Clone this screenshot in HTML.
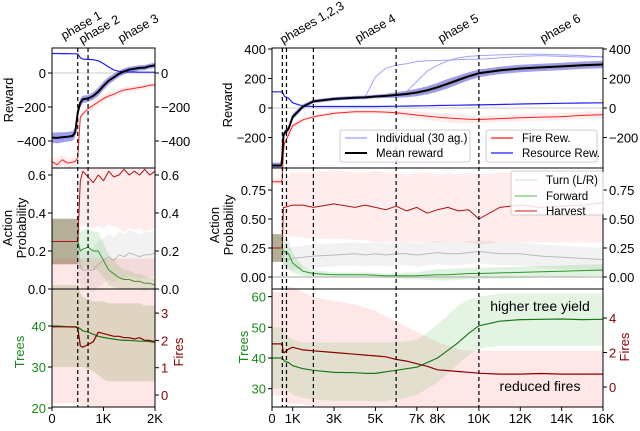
<!DOCTYPE html>
<html><head><meta charset="utf-8">
<style>
html,body{margin:0;padding:0;background:#fff;}
svg text{font-family:"Liberation Sans","DejaVu Sans",sans-serif;}
</style></head>
<body>
<svg id="chart" width="640" height="426" viewBox="0 0 640 426" xmlns="http://www.w3.org/2000/svg">
<defs>
<clipPath id="cL"><rect x="52" y="48" width="103" height="359"/></clipPath>
<clipPath id="cR"><rect x="272" y="48" width="331" height="359"/></clipPath>
</defs>
<g id="layer"></g>
</svg>
<script>
// ---------- data (x in thousands of episodes) ----------
const phaseLeftX = [0.5, 0.7];
const phaseRightX = [0.5, 0.7, 2, 6, 10];

// left panel (0-2K)
const lx = [0,0.1,0.2,0.3,0.4,0.45,0.5,0.55,0.6,0.7,0.8,0.9,1.0,1.1,1.2,1.3,1.4,1.5,1.6,1.7,1.8,1.9,2.0];
const lResource = [115,115,114,114,113,113,112,90,82,80,78,72,55,35,18,10,8,6,6,5,5,5,5];
const lMean = [-380,-382,-378,-375,-370,-350,-230,-175,-155,-150,-135,-110,-75,-45,-25,-5,10,20,25,30,32,40,45];
const lMeanSpread = [30,32,30,28,28,28,30,25,22,20,22,25,25,22,20,18,18,16,16,15,15,15,15];
const lFire = [-520,-540,-510,-530,-525,-520,-500,-260,-240,-210,-190,-170,-150,-135,-125,-110,-100,-95,-90,-85,-80,-72,-70];
const lHarvest = [0.25,0.25,0.25,0.25,0.25,0.25,0.25,0.57,0.62,0.59,0.56,0.6,0.57,0.62,0.59,0.6,0.63,0.6,0.62,0.6,0.63,0.6,0.62];
const lHarvestHi = [0.37,0.37,0.37,0.37,0.37,0.37,0.37,0.64,0.64,0.64,0.64,0.64,0.64,0.64,0.64,0.64,0.64,0.64,0.64,0.64,0.64,0.64,0.64];
const lHarvestLo = [0.13,0.13,0.13,0.13,0.13,0.13,0.13,0.33,0.33,0.34,0.32,0.33,0.32,0.34,0.33,0.32,0.3,0.32,0.31,0.32,0.3,0.31,0.32];
const lForward = [0.25,0.25,0.25,0.25,0.25,0.25,0.25,0.2,0.21,0.22,0.2,0.2,0.15,0.1,0.08,0.06,0.05,0.05,0.04,0.04,0.03,0.03,0.02];
const lForwardSpread = [0.12,0.12,0.12,0.12,0.12,0.12,0.12,0.1,0.1,0.1,0.1,0.1,0.09,0.08,0.07,0.06,0.05,0.05,0.04,0.04,0.04,0.03,0.03];
const lTurn = [0.25,0.25,0.25,0.25,0.25,0.25,0.25,0.12,0.1,0.1,0.1,0.13,0.15,0.17,0.15,0.18,0.17,0.19,0.18,0.17,0.18,0.18,0.19];
const lTurnSpread = [0.12,0.12,0.12,0.12,0.12,0.12,0.12,0.1,0.1,0.1,0.12,0.12,0.12,0.12,0.12,0.12,0.12,0.12,0.12,0.12,0.12,0.12,0.12];
const lTrees = [40,40,39.9,39.8,39.7,39.8,39.7,39.3,38.8,38.5,38,37.5,37.2,37,36.8,36.6,36.5,36.5,36.4,36.3,36.3,36.2,36.0];
const lTreesHi = [50,50,50,50,50,50,50,48,47,46.5,46,46,46,45.5,45.5,45.5,45.5,45.5,45.5,45.5,45,45,45];
const lTreesLo = [30,30,30,30,30,30,30,30,30,29.5,29,28,27,26.5,26.5,26.5,26.5,26.5,26.5,26.5,26.5,26.5,26.5];
const lFires = [2.5,2.5,2.5,2.5,2.5,2.5,2.45,1.8,1.75,1.85,1.95,2.3,2.25,2.2,2.15,2.15,2.1,2.1,2.05,2.1,2.0,2.0,1.95];
const lFiresHi = [5,5,5,5,5,5,5,5,5,5,5,5,5,5,5,5,5,5,5,5,5,5,5];
const lFiresLo = [-0.3,-0.3,-0.3,-0.3,-0.3,-0.3,-0.3,-0.4,-0.4,-0.4,-0.5,-0.5,-0.5,-0.5,-0.5,-0.5,-0.5,-0.5,-0.5,-0.5,-0.5,-0.5,-0.5];

// right panel (0-16K)
const rx = [0,0.45,0.5,0.55,0.6,0.8,1.0,1.5,2,3,4,4.5,5,5.5,6,6.5,7,7.5,8,8.5,9,9.5,10,11,12,13,14,15,16];
const rResource = [110,110,108,95,80,65,35,12,10,10,10,10,10,11,12,13,14,15,17,18,19,20,21,24,27,30,32,34,35];
const rMean = [-390,-390,-330,-190,-170,-140,-60,10,45,62,70,72,78,82,88,95,105,120,140,165,190,215,235,255,268,275,282,290,295];
const rMeanSpread = [20,20,20,20,20,20,20,15,12,12,12,12,12,14,18,22,25,28,30,32,30,28,26,25,25,25,25,25,25];
const rFire = [-500,-500,-480,-300,-240,-180,-120,-80,-60,-35,-25,-25,-25,-28,-32,-40,-48,-55,-62,-68,-72,-76,-78,-72,-66,-62,-58,-50,-45];
const rIndA = [-390,-390,-330,-190,-170,-140,-60,10,45,62,70,75,210,270,290,300,315,320,322,325,328,330,330,340,350,355,350,345,350];
const rIndB = [-390,-390,-330,-190,-170,-140,-60,10,45,62,70,72,78,82,88,110,180,250,290,320,340,350,355,360,365,365,360,355,345];
const rHarvest = [0.25,0.25,0.25,0.6,0.6,0.61,0.62,0.62,0.6,0.63,0.6,0.62,0.6,0.58,0.61,0.57,0.6,0.55,0.58,0.6,0.57,0.58,0.5,0.6,0.62,0.6,0.61,0.62,0.64];
const rHarvestHi = [0.37,0.37,0.37,0.85,0.85,0.87,0.9,0.9,0.9,0.92,0.9,0.9,0.92,0.9,0.9,0.88,0.9,0.9,0.88,0.9,0.88,0.9,0.88,0.9,0.9,0.9,0.9,0.9,0.9];
const rHarvestLo = [0.13,0.13,0.13,0.35,0.35,0.35,0.35,0.34,0.33,0.33,0.32,0.32,0.3,0.3,0.3,0.3,0.3,0.3,0.3,0.3,0.3,0.3,0.28,0.3,0.3,0.3,0.3,0.3,0.3];
const rForward = [0.25,0.25,0.25,0.22,0.22,0.2,0.12,0.05,0.03,0.02,0.02,0.02,0.015,0.01,0.01,0.01,0.01,0.015,0.02,0.02,0.025,0.03,0.03,0.035,0.04,0.045,0.05,0.055,0.06];
const rForwardSpread = [0.12,0.12,0.12,0.12,0.12,0.12,0.08,0.04,0.03,0.02,0.02,0.02,0.02,0.02,0.02,0.03,0.03,0.04,0.05,0.05,0.05,0.05,0.05,0.05,0.05,0.05,0.05,0.05,0.05];
const rTurn = [0.25,0.25,0.25,0.18,0.16,0.15,0.16,0.17,0.18,0.19,0.2,0.19,0.2,0.19,0.2,0.2,0.19,0.2,0.21,0.2,0.2,0.21,0.22,0.2,0.2,0.18,0.17,0.16,0.15];
const rTurnSpread = [0.12,0.12,0.12,0.1,0.1,0.1,0.1,0.1,0.1,0.1,0.1,0.1,0.1,0.1,0.1,0.1,0.1,0.1,0.1,0.1,0.1,0.1,0.1,0.1,0.1,0.1,0.1,0.1,0.1];
const rTrees = [40,40,39.8,39.5,39,38.5,37.5,36.5,36,35.3,35.2,35,35,35.5,36,36.5,37,38.5,40,42.5,45,48,50.5,52,52.5,52.6,52.7,52.5,52.6];
const rTreesHi = [50,50,50,49,48.5,47,46,45,45,45,45,45,45,45,45,45.5,46,48,51,54,57,59,60,61,61,61,61,61,61];
const rTreesLo = [30,30,30,30,29.5,29,28,27,26.5,26,26,26,26,26,26.5,27,28,30,32,35,38,41,43,44,44,44,44,44,44];
const rFires = [2.5,2.5,2.4,2.0,2.0,2.2,2.3,2.15,2.1,2.0,1.9,1.85,1.8,1.75,1.6,1.5,1.35,1.2,1.0,0.95,0.9,0.85,0.8,0.75,0.75,0.78,0.75,0.75,0.75];
const rFiresHi = [5.5,5.5,5.5,5.5,5.5,5.8,5.8,5.5,5.2,5.0,4.8,4.6,4.4,4.1,3.8,3.5,3.2,2.9,2.6,2.4,2.2,2.1,2.1,2.1,2.1,2.1,2.1,2.1,2.1];
const rFiresLo = [-0.5,-0.5,-0.6,-0.8,-0.9,-1.0,-1.0,-1.0,-1.1,-1.1,-1.1,-1.1,-1.2,-1.2,-1.2,-1.2,-1.2,-1.2,-1.3,-1.3,-1.3,-1.3,-1.3,-1.3,-1.3,-1.3,-1.3,-1.3,-1.3];

// tick labels
const lRewardTicks = [0,-200,-400];
const lActTicks = [0.6,0.4,0.2,0.0];
const lTreeTicks = [40,30,20];
const lFireTicks = [3,2,1,0];
const lXTicks = [0,1,2];
const lXTickLabels = ["0","1K","2K"];
const rRewardTicks = [400,200,0,-200];
const rActTicks = [0.75,0.5,0.25,0.0];
const rTreeTicks = [60,50,40,30];
const rFireTicks = [4,2,0];
const rXTicks = [0,1,3,5,7,8,10,12,14,16];
const rXTickLabels = ["0","1K","3K","5K","7K","8K","10K","12K","14K","16K"];

// ---------- scales ----------
const LX = v => 52 + v*51.5;
const RX = v => 272 + v*20.69;
const LYr = v => 73 - v*0.17;
const LYa = v => 289 - v*190;
const LYt = v => 326 - (v-40)*4.1;
const LYf = v => 395 - v*27.3;
const RYr = v => 108 - v*0.1475;
const RYa = v => 277 - v*116;
const RYt = v => 358 - (v-40)*3.07;
const RYf = v => 387 - v*17.25;

const NS = "http://www.w3.org/2000/svg";
const layer = document.getElementById('layer');
function mk(tag, attrs, parent){const e=document.createElementNS(NS,tag);for(const k in attrs)e.setAttribute(k,attrs[k]);(parent||layer).appendChild(e);return e;}
function pts(xs, ys, X, Y){return xs.map((x,i)=>X(x).toFixed(1)+','+Y(ys[i]).toFixed(1)).join(' ');}
function line(g, xs, ys, X, Y, color, w, name, op){
  const e=mk('polyline',{points:pts(xs,ys,X,Y),fill:'none',stroke:color,'stroke-width':w,'stroke-opacity':op||1,'stroke-linejoin':'round'},g);
  
  
  return e;
}
function band(g, xs, lo, hi, X, Y, color, name){
  const p = xs.map((x,i)=>X(x).toFixed(1)+','+Y(hi[i]).toFixed(1)).concat(xs.slice().reverse().map((x,j)=>{const i=xs.length-1-j;return X(x).toFixed(1)+','+Y(lo[i]).toFixed(1);})).join(' ');
  const e=mk('polygon',{points:p,fill:color,stroke:'none'},g);
  
  
  return e;
}
const plus=(a,s)=>a.map((v,i)=>v+s[i]);
const minus=(a,s)=>a.map((v,i)=>v-s[i]);
function text(str,x,y,opt){
  const e=mk('text',Object.assign({x:x,y:y,'font-size':13,fill:'#000'},opt||{}));
  e.textContent=str;return e;
}

// ---------- left panel ----------
const gL = mk('g',{'clip-path':'url(#cL)'});


mk('line',{x1:52,x2:155,y1:LYr(0),y2:LYr(0),stroke:'#ccc','stroke-width':1},gL);
band(gL,lx,minus(lFire,lMeanSpread),plus(lFire,lMeanSpread),LX,LYr,'rgba(255,0,0,0.07)','left-fire-band');
band(gL,lx,minus(lMean,lMeanSpread),plus(lMean,lMeanSpread),LX,LYr,'rgba(40,40,220,0.45)','left-individual-band');
line(gL,lx,lResource,LX,LYr,'#1f1fff',1.2,'left-resource-line');
line(gL,lx,lFire,LX,LYr,'#ff2020',1,'left-fire-line');
line(gL,lx,lMean,LX,LYr,'#000',2,'left-mean-line');
band(gL,lx,lHarvestLo,lHarvestHi,LX,LYa,'rgba(255,60,60,0.09)','left-harvest-band');
band(gL,lx,minus(lTurn,lTurnSpread),plus(lTurn,lTurnSpread),LX,LYa,'rgba(0,0,0,0.05)','left-turn-band');
band(gL,lx,minus(lForward,lForwardSpread),plus(lForward,lForwardSpread),LX,LYa,'rgba(0,160,0,0.12)','left-forward-band');
band(gL,[0,0.5],[0.13,0.13],[0.37,0.37],LX,LYa,'rgba(120,100,70,0.35)','left-early-band');
line(gL,lx,lTurn,LX,LYa,'#bbb',1,'left-turn-line');
line(gL,lx,lForward,LX,LYa,'#2a9a2a',1,'left-forward-line');
line(gL,lx,lHarvest,LX,LYa,'#b01010',1,'left-harvest-line');
band(gL,lx,lFiresLo,lFiresHi,LX,LYf,'rgba(255,60,60,0.12)','left-fires-band');
band(gL,lx,lTreesLo,lTreesHi,LX,LYt,'rgba(110,140,60,0.22)','left-trees-band');
line(gL,lx,lTrees,LX,LYt,'#1a7a1a',1.2,'left-trees-line');
line(gL,lx,lFires,LX,LYf,'#8b0000',1.2,'left-fires-line');
phaseLeftX.forEach(p=>{mk('line',{x1:LX(p),x2:LX(p),y1:48,y2:407,stroke:'#000','stroke-width':1.2,'stroke-dasharray':'4,3'},gL);});

// ---------- right panel ----------
const gR = mk('g',{'clip-path':'url(#cR)'});


mk('line',{x1:272,x2:603,y1:RYr(0),y2:RYr(0),stroke:'#ccc','stroke-width':1},gR);
band(gR,rx,minus(rFire,rMeanSpread),plus(rFire,rMeanSpread),RX,RYr,'rgba(255,0,0,0.07)','right-fire-band');
band(gR,rx,minus(rMean,rMeanSpread),plus(rMean,rMeanSpread),RX,RYr,'rgba(40,40,220,0.45)','right-individual-band');
band(gR,rx,minus(rMean,rMeanSpread.map(v=>v*0.5)),plus(rMean,rMeanSpread.map(v=>v*0.5)),RX,RYr,'rgba(150,150,150,0.6)','right-mean-band');
line(gR,rx,rIndA,RX,RYr,'#8c8cff',1,'right-individual-line-a',0.8);
line(gR,rx,rIndB,RX,RYr,'#8c8cff',1,'right-individual-line-b',0.8);
line(gR,rx,rResource,RX,RYr,'#1f1fff',1.2,'right-resource-line');
line(gR,rx,rFire,RX,RYr,'#ff2020',1,'right-fire-line');
line(gR,rx,rMean,RX,RYr,'#000',2,'right-mean-line');
band(gR,rx,rHarvestLo,rHarvestHi,RX,RYa,'rgba(255,60,60,0.09)','right-harvest-band');
band(gR,rx,minus(rTurn,rTurnSpread),plus(rTurn,rTurnSpread),RX,RYa,'rgba(0,0,0,0.05)','right-turn-band');
band(gR,rx,minus(rForward,rForwardSpread),plus(rForward,rForwardSpread),RX,RYa,'rgba(0,160,0,0.12)','right-forward-band');
band(gR,[0,0.5],[0.13,0.13],[0.37,0.37],RX,RYa,'rgba(120,100,70,0.35)','right-early-band');
mk('line',{x1:272,x2:603,y1:RYa(0),y2:RYa(0),stroke:'#aaa','stroke-width':1},gR);
line(gR,rx,rTurn,RX,RYa,'#bbb',1,'right-turn-line');
line(gR,rx,rForward,RX,RYa,'#2a9a2a',1,'right-forward-line');
line(gR,rx,rHarvest,RX,RYa,'#b01010',1,'right-harvest-line');
band(gR,rx,rFiresLo,rFiresHi,RX,RYf,'rgba(255,60,60,0.12)','right-fires-band');
band(gR,rx,rTreesLo,rTreesHi,RX,RYt,'rgba(60,180,60,0.14)','right-trees-band');
line(gR,rx,rTrees,RX,RYt,'#1a7a1a',1.2,'right-trees-line');
line(gR,rx,rFires,RX,RYf,'#8b0000',1.2,'right-fires-line');
phaseRightX.forEach(p=>{mk('line',{x1:RX(p),x2:RX(p),y1:48,y2:407,stroke:'#000','stroke-width':1.2,'stroke-dasharray':'4,3'},gR);});

// ---------- frames ----------
[[52,155],[272,603]].forEach(([a,b])=>{
  mk('rect',{x:a,y:48,width:b-a,height:359,fill:'none',stroke:'#000','stroke-width':1});
  mk('line',{x1:a,x2:b,y1:168,y2:168,stroke:'#000','stroke-width':1});
  mk('line',{x1:a,x2:b,y1:289,y2:289,stroke:'#000','stroke-width':1});
});

// ---------- ticks ----------
function yTicks(vals,Y,xl,xr,fmt,colL,colR,leftOn,rightOn){
  vals.forEach(v=>{
    const y=Y(v); const s=fmt(v);
    if(leftOn){mk('line',{x1:xl-4,x2:xl,y1:y,y2:y,stroke:'#000'});text(s,xl-6,y+5,{'text-anchor':'end',fill:colL});}
    if(rightOn){mk('line',{x1:xr,x2:xr+4,y1:y,y2:y,stroke:'#000'});text(s,xr+6,y+5,{'text-anchor':'start',fill:colR});}
  });
}
const fInt=v=>v<0?'\u2212'+Math.abs(v):String(v);
yTicks(lRewardTicks,LYr,52,155,fInt,'#000','#000',true,true);
yTicks(lActTicks,LYa,52,155,v=>v.toFixed(1),'#000','#000',true,true);
yTicks(lTreeTicks,LYt,52,155,String,'#1a8a1a','#000',true,false);
yTicks(lFireTicks,LYf,52,155,String,'#000','#8b0000',false,true);
yTicks(rRewardTicks,RYr,272,603,fInt,'#000','#000',true,true);
yTicks(rActTicks,RYa,272,603,v=>v.toFixed(2),'#000','#000',true,true);
yTicks(rTreeTicks,RYt,272,603,String,'#1a8a1a','#000',true,false);
yTicks(rFireTicks,RYf,272,603,String,'#000','#8b0000',false,true);
lXTicks.forEach((v,i)=>{mk('line',{x1:LX(v),x2:LX(v),y1:407,y2:411,stroke:'#000'});text(lXTickLabels[i],LX(v),423,{'text-anchor':'middle'});});
rXTicks.forEach((v,i)=>{mk('line',{x1:RX(v),x2:RX(v),y1:407,y2:411,stroke:'#000'});text(rXTickLabels[i],RX(v),423,{'text-anchor':'middle'});});

// axis titles
function vtext(str,x,y,col,name){const e=text(str,x,y,{'text-anchor':'middle',fill:col,transform:`rotate(-90 ${x} ${y})`});return e;}
vtext('Reward',13,100,'#000','left-reward-axis-title');
vtext('Action',12,228,'#000','left-action-axis-title');
vtext('Probability',26,228,'#000','left-probability-axis-title');
vtext('Trees',24,352,'#1a8a1a','left-trees-axis-title');
vtext('Fires',183,352,'#8b0000','left-fires-axis-title');
vtext('Reward',232,105,'#000','right-reward-axis-title');
vtext('Action',219,225,'#000','right-action-axis-title');
vtext('Probability',233,225,'#000','right-probability-axis-title');
vtext('Trees',248,347,'#1a8a1a','right-trees-axis-title');
vtext('Fires',629,347,'#8b0000','right-fires-axis-title');

// phase labels
function ptext(str,x,y,name){const e=text(str,x,y,{'font-size':12.5,transform:`rotate(-30 ${x} ${y})`});}
ptext('phase 1',64,40,'phase-1-label');
ptext('phase 2',82,44,'phase-2-label');
ptext('phase 3',121,43,'phase-3-label');
ptext('phases 1,2,3',283,44,'phases-123-label');
ptext('phase 4',358,43,'phase-4-label');
ptext('phase 5',441,43,'phase-5-label');
ptext('phase 6',543,43,'phase-6-label');

// annotations
const n1=text('higher tree yield',540,311,{'text-anchor':'middle','font-size':14});


const n2=text('reduced fires',540,391,{'text-anchor':'middle','font-size':14});



// legends
function legendBox(x,y,w,h,name){const r=mk('rect',{x:x,y:y,width:w,height:h,rx:2,fill:'rgba(255,255,255,0.85)',stroke:'#ccc'});}
function legItem(x,y,col,w,label,name){const g=mk('g',{});mk('line',{x1:x,x2:x+22,y1:y,y2:y,stroke:col,'stroke-width':w},g);const t=mk('text',{x:x+31,y:y+4,'font-size':11.5,fill:'#000'},g);t.textContent=label;}
legendBox(340,130,130,32,'reward-legend-left');
legItem(345,138,'#aab0ff',1.5,'Individual (30 ag.)','legend-individual');
legItem(345,153,'#000',2,'Mean reward','legend-mean-reward');
legendBox(486,130,111,32,'reward-legend-right');
legItem(491,138,'#ff4040',1.5,'Fire Rew.','legend-fire-reward');
legItem(491,153,'#4040ff',1.5,'Resource Rew.','legend-resource-reward');
legendBox(511,171,92,44,'action-legend');
legItem(515,180,'#e6e6e6',1.5,'Turn (L/R)','legend-turn');
legItem(515,196,'#8ccf8c',1.5,'Forward','legend-forward');
legItem(515,211,'#d66',1.5,'Harvest','legend-harvest');
</script>
</body></html>
